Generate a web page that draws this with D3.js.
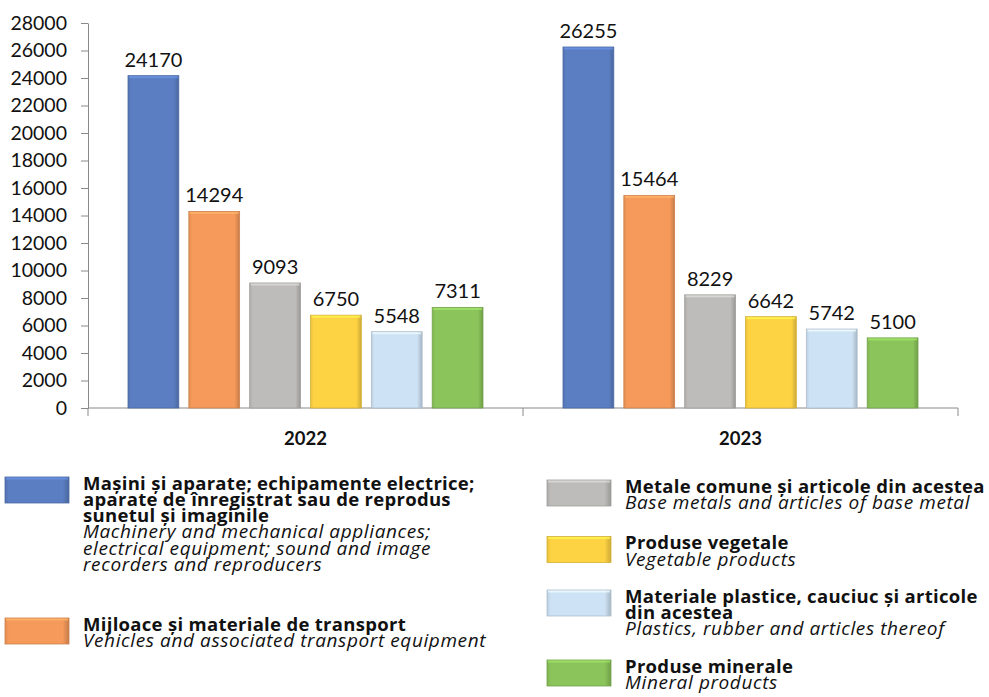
<!DOCTYPE html>
<html>
<head>
<meta charset="utf-8">
<script src="https://cdn.jsdelivr.net/npm/d3@7"></script>
<style>
body { margin: 0; background: #fff; }
svg { display: block; font-family: Lato, "Open Sans", sans-serif; }
</style>
</head>
<body>
<svg id="chart" width="989" height="697"></svg>
<script>
const years = ["2022", "2023"];
const groupsRo = [
    ["Mașini și aparate; echipamente electrice;", "aparate de înregistrat sau de reprodus", "sunetul și imaginile"],
    ["Mijloace și materiale de transport"],
    ["Metale comune și articole din acestea"],
    ["Produse vegetale"],
    ["Materiale plastice, cauciuc și articole", "din acestea"],
    ["Produse minerale"]
];
const groupsEn = [
    ["Machinery and mechanical appliances;", "electrical equipment; sound and image", "recorders and reproducers"],
    ["Vehicles and associated transport equipment"],
    ["Base metals and articles of base metal"],
    ["Vegetable products"],
    ["Plastics, rubber and articles thereof"],
    ["Mineral products"]
];
const values2022 = [24170, 14294, 9093, 6750, 5548, 7311];
const values2023 = [26255, 15464, 8229, 6642, 5742, 5100];
const yTicks = [0, 2000, 4000, 6000, 8000, 10000, 12000, 14000, 16000, 18000, 20000, 22000, 24000, 26000, 28000];
const colors = ["#5b7ec2", "#f59a5a", "#bdbcba", "#fdd243", "#cde2f4", "#8bc45a"];

const values = { "2022": values2022, "2023": values2023 };
const svg = d3.select("#chart");
const axisColor = "#8a8a8a";

// gradients to mimic the bevelled excel bars
const defs = svg.append("defs");
colors.forEach((c, i) => {
    const g = defs.append("linearGradient").attr("id", "grad" + i)
        .attr("x1", "0%").attr("x2", "100%").attr("y1", "0%").attr("y2", "0%");
    g.append("stop").attr("offset", "0%").attr("stop-color", d3.color(c).darker(0.25));
    g.append("stop").attr("offset", "6%").attr("stop-color", c);
    g.append("stop").attr("offset", "90%").attr("stop-color", c);
    g.append("stop").attr("offset", "100%").attr("stop-color", d3.color(c).darker(0.6));
});

const drawBox = (sel, i, x, yTop, w, h) => {
    sel.append("rect")
        .attr("x", x).attr("y", yTop).attr("width", w).attr("height", h)
        .attr("fill", "url(#grad" + i + ")")
        .attr("stroke", d3.color(colors[i]).darker(0.5))
        .attr("stroke-width", 0.8);
    sel.append("rect")
        .attr("x", x + 1).attr("y", yTop + 0.5).attr("width", w - 2).attr("height", 2)
        .attr("fill", d3.color(colors[i]).brighter(0.5))
        .attr("opacity", 0.7);
};

// scales
const x0 = d3.scaleBand().domain(years).range([88, 958]);
const x1 = d3.scaleBand().domain(d3.range(colors.length))
    .range([40, x0.bandwidth() - 40]).paddingInner(0.165);
const y = d3.scaleLinear().domain([0, 28000]).range([408, 23]);

// y axis
const yAxis = svg.append("g")
    .attr("transform", "translate(88,0)")
    .call(d3.axisLeft(y).tickValues(yTicks).tickFormat(d3.format("d"))
        .tickSize(7).tickSizeOuter(0).tickPadding(14));
yAxis.select(".domain").attr("stroke", axisColor);
yAxis.selectAll(".tick line").attr("stroke", axisColor);
yAxis.selectAll(".tick text")
    .attr("font-size", 19.5).attr("fill", "#111").attr("font-family", "Lato");

// x axis: baseline and category boundary ticks
const xAxis = svg.append("g");
xAxis.append("line")
    .attr("x1", x0.range()[0]).attr("x2", x0.range()[1])
    .attr("y1", y(0)).attr("y2", y(0))
    .attr("stroke", axisColor);
const bounds = years.map(d => x0(d)).concat([x0.range()[1]]);
xAxis.selectAll(".bound").data(bounds).enter().append("line")
    .attr("x1", d => d).attr("x2", d => d)
    .attr("y1", y(0)).attr("y2", y(0) + 8)
    .attr("stroke", axisColor);

const xLabels = svg.append("g")
    .attr("transform", "translate(0," + y(0) + ")")
    .call(d3.axisBottom(x0).tickSize(0).tickPadding(24));
xLabels.select(".domain").remove();
xLabels.selectAll(".tick text")
    .attr("font-size", 18.5).attr("font-weight", "bold").attr("fill", "#111")
    .attr("font-family", "Lato");

// bars
years.forEach(year => {
    const g = svg.append("g").attr("transform", "translate(" + x0(year) + ",0)");
    values[year].forEach((v, i) => {
        drawBox(g, i, x1(i), y(v), x1.bandwidth(), y(0) - y(v));
        g.append("text")
            .attr("x", x1(i) + x1.bandwidth() / 2)
            .attr("y", y(v) - 9)
            .attr("text-anchor", "middle")
            .attr("font-size", 20)
            .attr("fill", "#111")
            .text(v);
    });
});

// legend
const legendPos = [
    { x: 5, y: 477 },
    { x: 5, y: 618 },
    { x: 547, y: 480 },
    { x: 547, y: 536.5 },
    { x: 547, y: 590 },
    { x: 547, y: 660 }
];
const legend = svg.append("g").attr("font-family", "'Open Sans', sans-serif");
groupsRo.forEach((ro, i) => {
    const p = legendPos[i];
    const g = legend.append("g");
    drawBox(g, i, p.x, p.y, 64, 26);
    let ty = p.y + 12.5;
    ro.forEach((line, j) => {
        if (j > 0) ty += 16;
        g.append("text")
            .attr("x", p.x + 78).attr("y", ty)
            .attr("font-size", 18.5).attr("font-weight", "bold")
            .attr("letter-spacing", 0.3).attr("fill", "#111")
            .text(line);
    });
    groupsEn[i].forEach((line, j) => {
        ty += j === 0 ? 16.5 : 16.5;
        g.append("text")
            .attr("x", p.x + 78).attr("y", ty)
            .attr("font-size", 19).attr("font-style", "italic")
            .attr("letter-spacing", 0.6).attr("fill", "#111")
            .text(line);
    });
});
</script>
</body>
</html>
